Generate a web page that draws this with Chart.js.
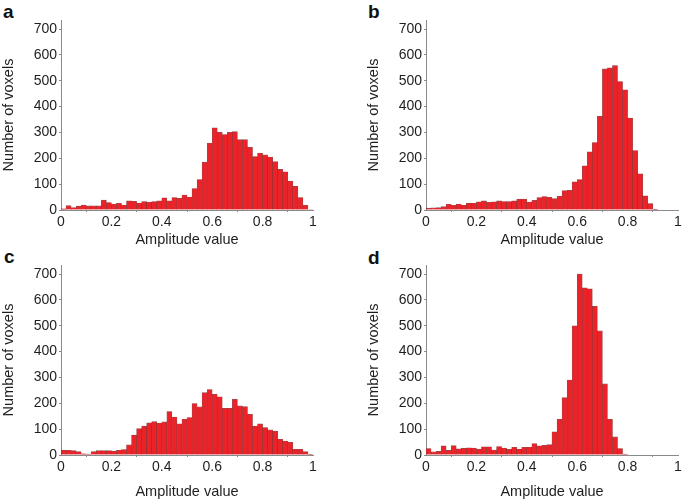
<!DOCTYPE html>
<html>
<head>
<meta charset="utf-8">
<script src="https://cdn.jsdelivr.net/npm/chart.js@4.4.1/dist/chart.umd.min.js"></script>
<style>
  html, body { margin: 0; padding: 0; background: #fff; }
  body { width: 685px; height: 501px; position: relative; overflow: hidden; font-family: "Liberation Sans", Arial, sans-serif; }
  canvas { position: absolute; }
  .lbl { position: absolute; font-weight: bold; font-size: 19px; line-height: 19px; color: #111; }
</style>
</head>
<body>
<div class="lbl" style="left:3px;top:2px">a</div>
<div class="lbl" style="left:368px;top:2px">b</div>
<div class="lbl" style="left:4px;top:247px">c</div>
<div class="lbl" style="left:368px;top:248px">d</div>
<canvas id="ca" width="320" height="249" style="left:0px;top:0px"></canvas>
<canvas id="cb" width="320" height="249" style="left:365px;top:0px"></canvas>
<canvas id="cc" width="320" height="256" style="left:0px;top:245px"></canvas>
<canvas id="cd" width="320" height="256" style="left:365px;top:245px"></canvas>
<script>
// Histogram bins: 50 bins of width 0.02 over amplitude 0..1
const binWidth = 0.02;
const xTicks = [0, 0.2, 0.4, 0.6, 0.8, 1];
const yTicks = [0, 100, 200, 300, 400, 500, 600, 700];
const xTitle = 'Amplitude value';
const yTitle = 'Number of voxels';

const countsA = [5, 17, 9, 15, 19, 16, 16, 16, 38, 29,
                 23, 26, 19, 35, 34, 27, 33, 30, 33, 35,
                 47, 35, 48, 45, 58, 50, 83, 118, 185, 258,
                 318, 300, 292, 300, 303, 272, 272, 242, 207, 220,
                 213, 205, 187, 157, 148, 112, 92, 48, 18, 2];
const countsB = [7, 8, 9, 13, 22, 18, 23, 18, 26, 26,
                 32, 35, 30, 32, 35, 33, 33, 35, 42, 42,
                 31, 37, 48, 52, 49, 44, 53, 75, 76, 109,
                 118, 171, 225, 261, 362, 546, 550, 559, 497, 465,
                 356, 230, 140, 55, 25, 1, 0, 0, 0, 0];
const countsC = [18, 18, 17, 13, 5, 4, 13, 17, 17, 17,
                 15, 18, 21, 39, 77, 102, 112, 124, 129, 123,
                 128, 168, 147, 121, 138, 145, 199, 186, 241, 253,
                 235, 225, 181, 181, 215, 190, 187, 157, 112, 121,
                 106, 97, 93, 61, 54, 49, 22, 22, 13, 3];
const countsD = [25, 12, 14, 35, 18, 36, 24, 26, 28, 27,
                 23, 32, 32, 19, 33, 27, 22, 30, 23, 30,
                 30, 44, 35, 37, 40, 90, 138, 222, 290, 500,
                 700, 647, 643, 575, 480, 275, 138, 70, 25, 4,
                 0, 0, 0, 0, 0, 0, 0, 0, 0, 0];

const FAMILY = '"Liberation Sans", Arial, Helvetica, sans-serif';
const AXIS_COLOR = '#8a8a8a';
const TEXT_COLOR = '#1e1e1e';

function makeChart(id, counts, xAxisHeight) {
  const data = counts.map((v, i) => ({ x: (i + 0.5) * binWidth, y: v }));
  return new Chart(document.getElementById(id), {
    type: 'bar',
    data: {
      datasets: [{
        data: data,
        backgroundColor: '#ec2229',
        borderColor: 'rgba(110,20,20,0.75)',
        borderWidth: 0.6,
        barPercentage: 1.0,
        categoryPercentage: 1.0
      }]
    },
    options: {
      responsive: false,
      animation: false,
      devicePixelRatio: 1,
      layout: { padding: { top: 20, right: 7, left: 0, bottom: 0 } },
      plugins: { legend: { display: false }, tooltip: { enabled: false } },
      scales: {
        x: {
          type: 'linear',
          min: xTicks[0],
          max: xTicks[xTicks.length - 1],
          offset: false,
          afterBuildTicks: s => { s.ticks = xTicks.map(v => ({ value: v })); },
          afterFit: s => { s.height = xAxisHeight; },
          grid: { display: true, drawOnChartArea: false, drawTicks: true, tickLength: 2, color: AXIS_COLOR },
          border: { display: true, color: AXIS_COLOR, width: 1 },
          ticks: {
            padding: 2,
            color: TEXT_COLOR,
            maxRotation: 0,
            autoSkip: false,
            font: { size: 14, family: FAMILY },
            callback: v => String(Math.round(v * 10) / 10)
          },
          title: { display: true, text: xTitle, color: TEXT_COLOR, padding: 0, font: { size: 14.5, family: FAMILY } }
        },
        y: {
          min: 0,
          max: 735,
          afterBuildTicks: s => { s.ticks = yTicks.map(v => ({ value: v })); },
          afterFit: s => { s.width = 61; },
          grid: { display: true, drawOnChartArea: false, drawTicks: true, tickLength: 2, color: AXIS_COLOR },
          border: { display: true, color: AXIS_COLOR, width: 1 },
          ticks: {
            padding: 2,
            color: TEXT_COLOR,
            font: { size: 14, family: FAMILY }
          },
          title: { display: true, text: yTitle, color: TEXT_COLOR, padding: 0, font: { size: 14.5, family: FAMILY } }
        }
      }
    }
  });
}

makeChart('ca', countsA, 39);
makeChart('cb', countsB, 39);
makeChart('cc', countsC, 46);
makeChart('cd', countsD, 46);
</script>
</body>
</html>
